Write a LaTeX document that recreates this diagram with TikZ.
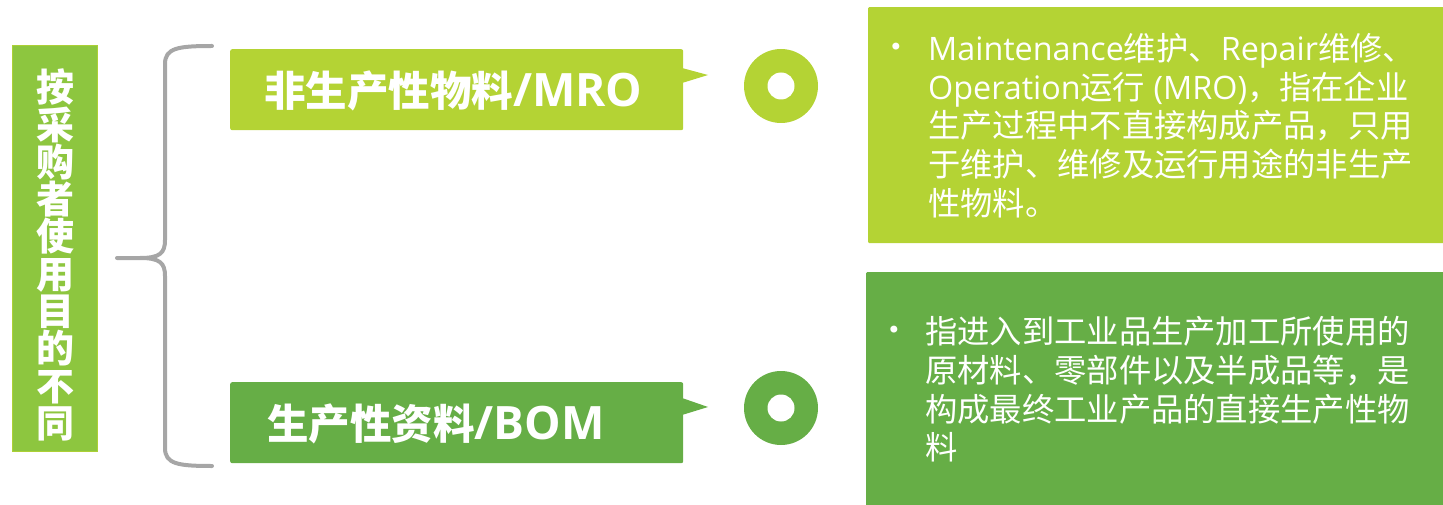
\documentclass[tikz,border=0pt]{standalone}
\usepackage{fontspec}
\setmainfont{Noto Sans CJK SC}
\newfontfamily\lat{Open Sans}
\newfontfamily\dv{DejaVu Sans}
\setlength\lineskiplimit{-100pt}
\definecolor{lime}{HTML}{B4D334}
\definecolor{leaf}{HTML}{66AE46}
\definecolor{side}{HTML}{8DC63F}
\definecolor{bracegray}{HTML}{A6A6A6}
\newcommand{\biglat}[1]{{\lat\fontsize{46}{44}\selectfont #1}}
\tikzset{
  labelbox/.style={rounded corners=2pt, inner sep=0pt, minimum width=453pt, minimum height=81pt, anchor=north west},
  labeltext/.style={text=white, font=\bfseries\fontsize{41.5}{44}\selectfont, inner sep=0pt, anchor=base west},
  infobox/.style={inner sep=0pt, anchor=north west, rounded corners=1pt},
  infotext/.style={text=white, font=\fontsize{32.3}{38.8}\selectfont, align=left, inner sep=0pt, anchor=north west},
  bullet/.style={text=white, font=\dv\fontsize{24}{30}\selectfont, inner sep=0pt},
  ring/.style={circle, inner sep=0pt, minimum size=74pt},
  hole/.style={circle, fill=white, inner sep=0pt, minimum size=27pt}
}
\begin{document}
\begin{tikzpicture}[x=1pt,y=-1pt]
\useasboundingbox (0,0) rectangle (1443,505);
% left vertical box
\node[draw=lime!80!side, line width=1pt, fill=side, minimum width=85pt, minimum height=406pt, inner sep=0pt, anchor=north west] (side) at (12,45) {};
\node[text=white, font=\bfseries\fontsize{38}{37.3}\selectfont, align=center, inner sep=0pt] (sidetext) at (55,255) {按\\采\\购\\者\\使\\用\\目\\的\\不\\同};
% brace
\coordinate (btop) at (212,46);
\coordinate (bmid) at (117,258);
\coordinate (bbot) at (212,466);
\draw[bracegray, line width=4pt, line cap=round, line join=round]
  (btop) .. controls (178,46) and (165,48) .. (165,64) -- (165,240)
  .. controls (165,253) and (160,258) .. (140,258) -- (bmid)
  (140,258) .. controls (160,258) and (165,263) .. (165,276) -- (165,448)
  .. controls (165,464) and (178,466) .. (bbot);
% top callout
\node[labelbox, fill=lime] (mro) at (230,49) {};
\fill[lime] (682,68) -- (708,75) -- (682,83) -- cycle;
\node[labeltext] (mrotext) at (264,107) {非生产性物料\biglat{/MRO}};
% bottom callout
\node[labelbox, fill=leaf] (bom) at (230,382) {};
\fill[leaf] (682,398) -- (708,407) -- (682,415) -- cycle;
\node[labeltext] (bomtext) at (267,439) {生产性资料\biglat{/BOM}};
% rings
\node[ring, fill=lime] (ring1) at (781,86) {};
\node[hole] (hole1) at (ring1) {};
\node[ring, fill=leaf] (ring2) at (781,408) {};
\node[hole] (hole2) at (ring2) {};
% right boxes
\node[infobox, fill=lime, minimum width=580pt, minimum height=236pt] (info1) at (868,7) {};
\node[bullet] (b1) at (896,49) {•};
\node[infotext] (t1) at (928,33) {{\lat Maintenance}维护、{\lat Repair}维修、\\{\lat Operation}运行{\lat\ (MRO)}，指在企业\\生产过程中不直接构成产品，只用\\于维护、维修及运行用途的非生产\\性物料。};
\node[infobox, fill=leaf, minimum width=580pt, minimum height=240pt] (info2) at (866,272) {};
\node[bullet] (b2) at (894,332) {•};
\node[infotext] (t2) at (925,316) {指进入到工业品生产加工所使用的\\原材料、零部件以及半成品等，是\\构成最终工业产品的直接生产性物\\料};
\end{tikzpicture}
\end{document}
